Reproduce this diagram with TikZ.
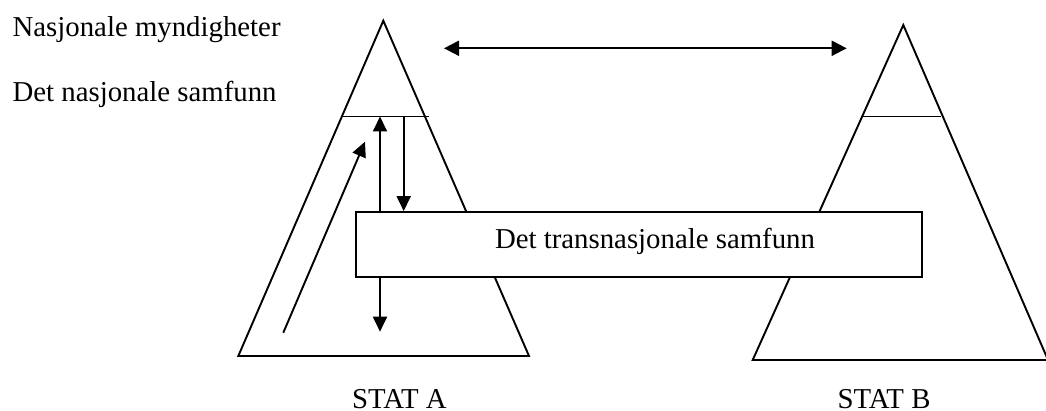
\documentclass[tikz,border=0pt]{standalone}
\usepackage{fontspec}
\setmainfont{Liberation Serif}
\usetikzlibrary{arrows.meta}
\begin{document}
\begin{tikzpicture}[x=1pt,y=-1pt,line width=1.9pt,
  flow/.style={-{Triangle[length=15pt,width=14pt]}},
  twoway/.style={{Triangle[length=15pt,width=15pt]}-{Triangle[length=15pt,width=15pt]}},
  lbl/.style={font=\fontsize{28.8}{34}\selectfont, inner sep=0pt},
  society/.style={draw, fill=white, minimum width=566pt, minimum height=65.3pt, inner sep=0pt}]
\useasboundingbox (0,0) rectangle (1046,411);

% state A pyramid
\coordinate (a1) at (383.3,20.7);
\coordinate (a2) at (238.3,356);
\coordinate (a3) at (529,356);
\draw (a1) -- (a2) -- (a3) -- cycle;
\coordinate (al) at (342.3,116.5);
\coordinate (ar) at (429,116.5);
\draw (al) -- (ar);

% state B pyramid
\coordinate (b1) at (903.3,25);
\coordinate (b2) at (752.7,360);
\coordinate (b3) at (1048,360);
\draw (b1) -- (b2) -- (b3) -- cycle;
\coordinate (bl) at (863.3,116.5);
\coordinate (br) at (941.3,116.5);
\draw (bl) -- (br);

% transnational society box
\node[society] (tbox) at (638.7,244.7) {};
\node[lbl, anchor=base] (tt) at (655,248.3) {Det transnasjonale samfunn};

% labels
\node[lbl, anchor=base west] (nm) at (11.7,36.7) {Nasjonale myndigheter};
\node[lbl, anchor=base west] (ns) at (11.7,102) {Det nasjonale samfunn};
\node[lbl, anchor=base, text depth=0pt] (sa) at (399.4,408.3) {STAT A};
\node[lbl, anchor=base, text depth=0pt] (sb) at (884,408.3) {STAT B};

% arrows
\coordinate (up) at (380,116.5);
\coordinate (dn) at (403.7,116.5);
\coordinate (lo) at (380,331.7);
\coordinate (ds) at (283.3,332.7);
\coordinate (de) at (365,141.7);
\coordinate (hl) at (444,48.3);
\coordinate (hr) at (846.7,48.3);
\draw[flow] (up |- tbox.north) -- (up);
\draw[flow] (dn) -- (dn |- tbox.north);
\draw[flow] (lo |- tbox.south) -- (lo);
\draw[flow] (ds) -- (de);
\draw[twoway] (hl) -- (hr);
\end{tikzpicture}
\end{document}
